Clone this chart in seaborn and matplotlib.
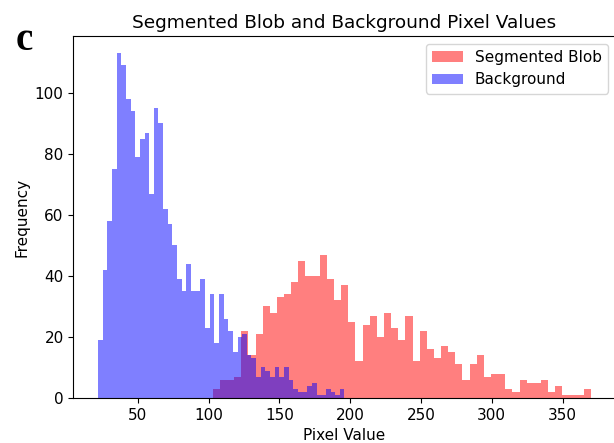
import numpy as np
import pandas as pd
import matplotlib
matplotlib.use("Agg")
import matplotlib.pyplot as plt
import seaborn as sns

# Histogram counts (53 bins each)
blob_min, blob_max = 103.0, 370.0
blob_counts = [3, 6, 6, 7, 22, 14, 21, 30, 28, 33, 34, 38, 45, 40, 40, 47, 39, 32, 37, 25,
               12, 24, 27, 20, 28, 23, 19, 27, 12, 22, 16, 13, 17, 15, 11, 6, 11, 14, 7, 8,
               8, 3, 2, 6, 5, 5, 6, 2, 4, 1, 1, 1, 3]

bg_min, bg_max = 22.0, 196.0
bg_counts = [19, 42, 58, 75, 113, 109, 98, 94, 79, 85, 87, 67, 95, 90, 62, 57, 50, 39, 35, 44,
             35, 35, 39, 23, 34, 18, 34, 26, 22, 15, 20, 21, 14, 13, 7, 10, 9, 7, 10, 7,
             10, 6, 3, 2, 2, 4, 5, 1, 1, 3, 2, 1, 3]

labels = ["Segmented Blob", "Background"]
title = "Segmented Blob and Background Pixel Values"

blob_edges = np.linspace(blob_min, blob_max, len(blob_counts) + 1)
bg_edges = np.linspace(bg_min, bg_max, len(bg_counts) + 1)
blob_df = pd.DataFrame({"value": (blob_edges[:-1] + blob_edges[1:]) / 2,
                        "count": np.asarray(blob_counts, dtype=float)})
bg_df = pd.DataFrame({"value": (bg_edges[:-1] + bg_edges[1:]) / 2,
                      "count": np.asarray(bg_counts, dtype=float)})

plt.rcParams['font.family'] = ['DejaVu Sans']

fig = plt.figure(figsize=(6.14, 4.43), dpi=100)
ax = fig.add_axes([73.4 / 614, 45 / 443, 542.1 / 614, 362 / 443])

sns.histplot(data=blob_df, x="value", weights="count", bins=len(blob_counts),
             binrange=(blob_min, blob_max), color="red", alpha=0.5,
             linewidth=0, label=labels[0], ax=ax)
sns.histplot(data=bg_df, x="value", weights="count", bins=len(bg_counts),
             binrange=(bg_min, bg_max), color="blue", alpha=0.5,
             linewidth=0, label=labels[1], ax=ax)

ax.set_xlim(bg_min - 0.05 * (blob_max - bg_min), blob_max + 0.05 * (blob_max - bg_min))
ax.set_ylim(0, max(max(bg_counts), max(blob_counts)) * 1.05)
ax.set_xticks([50, 100, 150, 200, 250, 300, 350])
ax.set_yticks([0, 20, 40, 60, 80, 100])
ax.tick_params(labelsize=11)
ax.set_xlabel("Pixel Value", fontsize=11)
ax.set_ylabel("Frequency", fontsize=11)
ax.set_title(title, fontsize=13.3)
ax.legend(loc="upper right", fontsize=11)

fig.text(0.04, 0.908, "c", fontsize=28, fontweight="bold", family="Liberation Serif",
         ha="center", va="center")

fig.savefig("out.png", dpi=100)
